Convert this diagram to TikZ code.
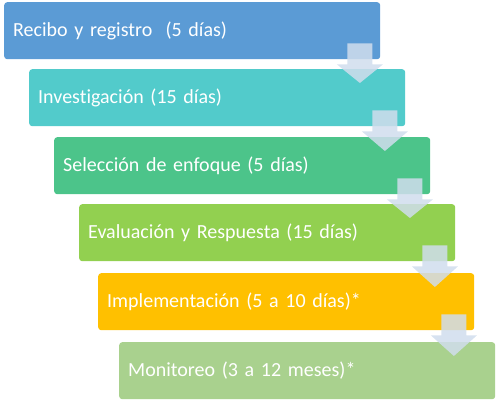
\documentclass[tikz,border=0pt]{standalone}
\usepackage{fontspec}
\setmainfont[Ligatures=NoCommon]{Carlito}
\usetikzlibrary{calc}
\definecolor{cA}{RGB}{91,155,213}
\definecolor{cB}{RGB}{82,203,203}
\definecolor{cC}{RGB}{76,196,138}
\definecolor{cD}{RGB}{146,208,80}
\definecolor{cE}{RGB}{255,192,0}
\definecolor{cF}{RGB}{169,209,142}
\definecolor{arrc}{RGB}{208,221,237}
\newcommand\blockarr[2]{%
  \fill[arr] let \p1=(#1.south east), \p2=(#2.north) in
    (\x1-33pt,\y1+16pt) -- (\x1-8pt,\y1+16pt) -- (\x1-8pt,\y1-5pt) -- (\x1+2.5pt,\y1-5pt)
    -- (\x1-20.5pt,\y2-14pt) -- (\x1-43.5pt,\y1-5pt) -- (\x1-33pt,\y1-5pt) -- cycle;}
\begin{document}
\begin{tikzpicture}[x=1pt,y=-1pt,
  stepbox/.style={anchor=north west, rounded corners=3pt, minimum height=57pt,
    text width=358pt, inner xsep=9pt, align=left, text=white,
    font=\fontsize{20}{24}\selectfont},
  arr/.style={fill=arrc, fill opacity=0.85}]
\useasboundingbox (0,0) rectangle (496,401);
\node[stepbox, fill=cA] (b1) at (4,2) {Recibo y registro\ \ (5 días)};
\node[stepbox, fill=cB] (b2) at (29,69) {Investigación (15 días)};
\node[stepbox, fill=cC] (b3) at (54,137) {Selección de enfoque (5 días)};
\node[stepbox, fill=cD] (b4) at (79,204) {Evaluación y Respuesta (15 días)};
\node[stepbox, fill=cE] (b5) at (98,273) {Implementación (5 a 10 días)*};
\node[stepbox, fill=cF] (b6) at (119,342) {Monitoreo (3 a 12 meses)*};
\blockarr{b1}{b2}
\blockarr{b2}{b3}
\blockarr{b3}{b4}
\blockarr{b4}{b5}
\blockarr{b5}{b6}
\end{tikzpicture}
\end{document}
